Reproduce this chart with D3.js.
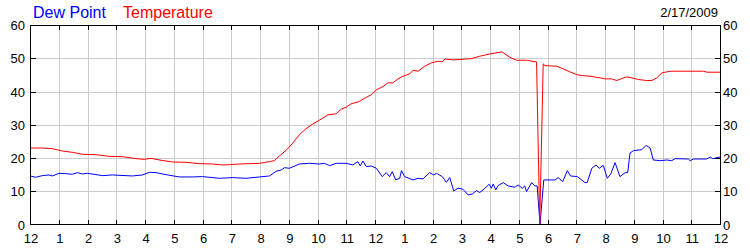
<!DOCTYPE html>
<html>
<head>
<meta charset="utf-8">
<script src="https://cdn.jsdelivr.net/npm/d3@7"></script>
<style>
  html, body { margin: 0; padding: 0; background: #fff; }
  svg { display: block; }
  text { font-family: "Liberation Sans", Arial, sans-serif; }
</style>
</head>
<body>
<svg id="chart" width="750" height="250"></svg>
<script>
// ---- data ----
const hourTicks = [0,1,2,3,4,5,6,7,8,9,10,11,12,13,14,15,16,17,18,19,20,21,22,23,24];
const hourLabels = ["12","1","2","3","4","5","6","7","8","9","10","11","12","1","2","3","4","5","6","7","8","9","10","11","12"];
const valueTicks = [0,10,20,30,40,50,60];
const dateLabel = "2/17/2009";
const seriesNames = ["Dew Point", "Temperature"];

const tempHours = [0,0.43,0.78,1.13,1.48,1.83,2.29,2.75,3.22,3.68,3.97,4.21,4.5,4.96,5.43,5.89,6.35,6.7,6.94,7.29,7.63,7.98,8.33,8.5,8.68,8.91,9.14,9.37,9.6,9.85,10.13,10.36,10.65,10.83,11.0,11.17,11.46,11.64,11.87,12.05,12.28,12.45,12.62,12.8,12.97,13.21,13.32,13.5,13.73,13.96,14.19,14.34,14.43,14.71,15.06,15.36,15.64,15.99,16.42,16.69,16.92,17.27,17.62,17.73,17.85,17.91,18.32,18.55,18.78,19.01,19.19,19.48,19.83,20.0,20.23,20.41,20.58,20.76,20.93,21.16,21.45,21.63,21.8,21.98,22.15,22.32,23.43,23.54,24.0];
const tempValues = [23.0,23.0,22.8,22.1,21.7,21.1,21.0,20.5,20.4,19.8,19.6,19.9,19.4,18.8,18.7,18.3,18.2,17.9,18.0,18.2,18.3,18.4,18.9,19.2,20.7,22.3,24.5,27.0,28.8,30.3,31.7,33.0,33.3,34.7,35.3,36.3,37.0,38.0,39.0,40.5,41.5,42.6,42.6,43.8,44.6,45.3,46.4,46.1,47.6,48.6,49.1,48.9,49.8,49.5,49.7,49.9,50.6,51.3,51.9,50.3,49.4,49.4,48.9,0,48.3,47.8,47.6,46.8,45.9,45.1,44.8,44.6,44.1,43.8,43.8,43.3,43.9,44.4,44.1,43.6,43.3,43.3,44.1,45.6,45.9,46.1,46.1,45.8,45.8];

const dewHours = [0,0.2,0.43,0.66,0.78,1.01,1.24,1.47,1.65,1.82,2.0,2.52,2.87,3.56,3.91,4.15,4.38,4.73,5.19,5.66,6.0,6.59,7.05,7.52,7.98,8.33,8.56,8.74,8.85,9.02,9.37,9.72,10.07,10.24,10.42,10.65,11.0,11.23,11.4,11.49,11.58,11.7,11.87,12.05,12.25,12.39,12.51,12.6,12.72,12.86,12.92,13.03,13.32,13.5,13.67,13.9,14.04,14.14,14.34,14.48,14.6,14.74,14.89,15.06,15.24,15.39,15.53,15.64,15.76,15.97,16.05,16.11,16.2,16.28,16.46,16.63,16.86,16.98,17.12,17.21,17.27,17.45,17.56,17.64,17.74,17.87,18.26,18.37,18.53,18.69,18.8,19.04,19.3,19.38,19.54,19.69,19.8,19.94,20.08,20.2,20.35,20.52,20.7,20.79,20.87,20.99,21.28,21.43,21.57,21.68,21.92,22.15,22.32,22.44,22.9,22.96,23.08,23.54,23.66,23.75,24.0];
const dewValues = [14.6,14.2,14.7,14.9,14.6,15.4,15.3,15.1,15.6,15.2,15.4,14.7,14.9,14.6,14.9,15.7,15.6,15.0,14.3,14.3,14.4,13.9,14.1,13.9,14.3,14.6,16.0,16.4,17.1,16.9,18.2,18.4,18.2,18.4,17.7,18.4,18.4,17.9,18.9,17.6,19.1,17.4,17.6,16.9,14.4,15.6,14.4,15.9,13.4,13.9,16.2,14.4,13.4,13.9,13.7,15.6,14.9,15.4,14.4,12.7,14.1,10.1,10.9,10.6,8.9,9.2,10.2,9.6,10.4,12.1,10.9,12.2,10.4,11.7,12.6,11.6,11.2,11.9,10.9,11.6,9.9,12.6,11.6,11.6,0,13.4,13.4,14.1,12.9,16.2,14.6,14.4,12.6,12.6,16.9,17.9,16.9,17.8,13.9,15.2,18.6,14.4,15.6,15.6,21.5,22.2,22.5,23.8,23.0,19.4,19.2,19.4,19.2,19.8,19.7,19.2,19.7,19.7,20.3,19.8,20.3];

// ---- layout ----
const svg = d3.select("#chart");
const x = d3.scaleLinear().domain([0, 24]).range([30, 720]);
const y = d3.scaleLinear().domain([0, 60]).range([224.5, 25]);
const px = v => Math.round(x(v)) + 0.5;
const py = v => Math.round(y(v)) + 0.5;
const gridColor = "#cccccc";
const textColor = "#000000";

// grid
svg.append("g").selectAll("line").data(hourTicks.slice(1, -1)).join("line")
  .attr("x1", d => px(d)).attr("x2", d => px(d))
  .attr("y1", 25).attr("y2", 224)
  .attr("stroke", gridColor).attr("stroke-width", 1);
svg.append("g").selectAll("line").data(valueTicks.slice(1, -1)).join("line")
  .attr("x1", 30).attr("x2", 720)
  .attr("y1", d => py(d)).attr("y2", d => py(d))
  .attr("stroke", gridColor).attr("stroke-width", 1);

// series
const lineGen = (hrs, vals) => d3.line()
  .x((d, i) => x(hrs[i])).y((d, i) => y(vals[i]))(vals);
svg.append("path").attr("d", lineGen(dewHours, dewValues))
  .attr("fill", "none").attr("stroke", "#0000ff").attr("stroke-width", 1);
svg.append("path").attr("d", lineGen(tempHours, tempValues))
  .attr("fill", "none").attr("stroke", "#ff0000").attr("stroke-width", 1);

// frame
svg.append("rect").attr("x", 30.5).attr("y", 25.5).attr("width", 690).attr("height", 199)
  .attr("fill", "none").attr("stroke", "#000").attr("stroke-width", 1);

// tick marks
const tk = svg.append("g").attr("stroke", "#000").attr("stroke-width", 1);
hourTicks.slice(1, -1).forEach(h => {
  tk.append("line").attr("x1", px(h)).attr("x2", px(h)).attr("y1", 25).attr("y2", 30);
  tk.append("line").attr("x1", px(h)).attr("x2", px(h)).attr("y1", 220).attr("y2", 225);
});
valueTicks.slice(1, -1).forEach(v => {
  tk.append("line").attr("x1", 30).attr("x2", 36).attr("y1", py(v)).attr("y2", py(v));
  tk.append("line").attr("x1", 715).attr("x2", 721).attr("y1", py(v)).attr("y2", py(v));
});

// axis labels
svg.append("g").selectAll("text").data(hourTicks).join("text")
  .attr("x", d => x(d) + 1).attr("y", 243)
  .attr("text-anchor", "middle").attr("font-size", 13).attr("fill", textColor)
  .text((d, i) => hourLabels[i]);
svg.append("g").selectAll("text").data(valueTicks).join("text")
  .attr("x", 25).attr("y", d => y(d) + 5)
  .attr("text-anchor", "end").attr("font-size", 13).attr("fill", textColor)
  .text(d => d);
svg.append("g").selectAll("text").data(valueTicks).join("text")
  .attr("x", 723).attr("y", d => y(d) + 5)
  .attr("text-anchor", "start").attr("font-size", 13).attr("fill", textColor)
  .text(d => d);

// legend & date
svg.append("text").attr("x", 33).attr("y", 17.5).attr("font-size", 16).attr("fill", "#0000ff").text(seriesNames[0]);
svg.append("text").attr("x", 123).attr("y", 17.5).attr("font-size", 16).attr("fill", "#ff0000").text(seriesNames[1]);
svg.append("text").attr("x", 718).attr("y", 17).attr("text-anchor", "end").attr("font-size", 13).attr("fill", textColor).text(dateLabel);
</script>
</body>
</html>
